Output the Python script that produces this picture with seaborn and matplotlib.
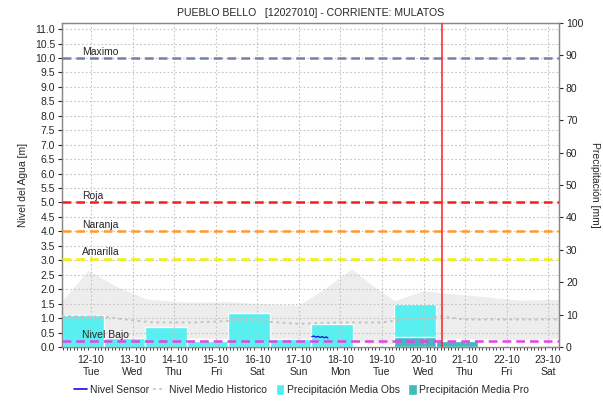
import numpy as np
import pandas as pd
import matplotlib
matplotlib.use("Agg")
import matplotlib.pyplot as plt
import seaborn as sns
from matplotlib.patches import Patch, Rectangle
from matplotlib.lines import Line2D
from matplotlib.legend_handler import HandlerPatch
from matplotlib.ticker import MultipleLocator, FormatStrFormatter

# ── datos ───────────────────────────────────────────────────────
day_labels = ["12-10\nTue", "13-10\nWed", "14-10\nThu", "15-10\nFri", "16-10\nSat", "17-10\nSun",
              "18-10\nMon", "19-10\nTue", "20-10\nWed", "21-10\nThu", "22-10\nFri", "23-10\nSat"]

# precipitación observada (mm), barras diarias que empiezan a las 07:00 del día anterior
obs_start = [-0.7, 0.3, 1.3, 2.3, 3.3, 4.3, 5.3, 6.3, 7.3]
obs_mm = [9.8, 2.9, 6.2, 2.0, 10.5, 2.5, 7.0, 0.4, 13.3]
# precipitación pronosticada (mm)
pro_start = [7.3, 8.3, 9.3]
pro_mm = [3.2, 1.9, 0.4]

# banda histórica (min-max) y nivel medio histórico [m]
band_x = [-0.7, -0.07, 0.6, 1.35, 2.3, 3.3, 4.0, 5.0, 5.6, 6.27, 6.8, 7.3, 8.0, 8.6, 9.4, 10.3, 11.26]
band_hi = [1.6, 2.65, 2.1, 1.65, 1.55, 1.57, 1.5, 1.45, 2.0, 2.7, 2.1, 1.6, 1.95, 1.85, 1.75, 1.62, 1.65]
band_lo = [0.4, 0.35, 0.2, 0.3, 0.32, 0.3, 0.3, 0.25, 0.2, 0.2, 0.12, 0.1, 0.15, 0.3, 0.28, 0.25, 0.3]
hist_x = [-0.7, 0.3, 1.0, 1.5, 2.5, 3.3, 4.0, 5.0, 6.0, 7.0, 7.5, 8.0, 8.4, 9.0, 10.0, 11.26]
hist_m = [1.07, 1.05, 0.92, 0.85, 0.85, 0.9, 0.9, 0.8, 0.85, 0.85, 0.95, 1.0, 1.07, 0.95, 0.95, 0.95]

# nivel sensor [m]
sensor_x = [5.31, 5.36, 5.41, 5.46, 5.51, 5.56, 5.61, 5.66, 5.70]
sensor_m = [0.36, 0.38, 0.34, 0.37, 0.33, 0.36, 0.32, 0.35, 0.31]

# umbrales
umbral_nombre = ["Maximo", "Roja", "Naranja", "Amarilla", "Nivel Bajo"]
umbral_valor = [10.0, 5.0, 4.0, 3.05, 0.2]
umbral_color = ["#7282aa", "#ff1a1a", "#ff9a2e", "#f2f200", "#e444e4"]

ahora = 8.44

C_OBS, C_PRO = "#4af0f0", "#3cbcbc"

# ── figura ─────────────────────────────────────────────────────
sns.set_style("white")
plt.rcParams["font.family"] = ["Liberation Sans", "DejaVu Sans"]
FS = 7.5

fig = plt.figure(figsize=(6.03, 4.03), dpi=100)
ax = fig.add_axes([62 / 603, 56 / 403, 497 / 603, 324 / 403])
ax2 = ax.twinx()
ax.set_zorder(ax2.get_zorder() + 1)
ax.patch.set_visible(False)

xmin, xmax = -0.7, 11.26

# banda histórica y barras de precipitación (eje derecho)
ax2.fill_between(band_x, band_lo, band_hi, color="#ededed", zorder=2, lw=0,
                 transform=ax.transData)
ax2.bar(obs_start, obs_mm, width=1.0, align="edge", color=C_OBS, alpha=0.92, zorder=3)
ax2.bar(pro_start, pro_mm, width=1.0, align="edge", color=C_PRO, zorder=4)
ax2.set_ylim(0, 100)
ax2.yaxis.set_major_locator(MultipleLocator(10))
ax2.set_ylabel("Precipitación [mm]", rotation=270, labelpad=12, fontsize=FS)
ax2.tick_params(axis="y", labelsize=FS, length=3, width=0.8, pad=2, direction="out", right=True)

# líneas de nivel
df_hist = pd.DataFrame({"x": hist_x, "y": hist_m})
sns.lineplot(data=df_hist, x="x", y="y", ax=ax, color="#c0c0c0", lw=1.3,
             linestyle=(0, (1.5, 2)), zorder=5)
df_sens = pd.DataFrame({"x": sensor_x, "y": sensor_m})
sns.lineplot(data=df_sens, x="x", y="y", ax=ax, color="#1010dd", lw=0.9, zorder=6)

for nombre, v, c in zip(umbral_nombre, umbral_valor, umbral_color):
    ax.axhline(v, color=c, lw=1.8, ls=(0, (3.5, 2)), zorder=6)
    ax.text(-0.22, v + 0.05, nombre, fontsize=FS, va="bottom", ha="left", zorder=7)

ax.axvline(ahora, color="#ff2020", lw=1.1, zorder=8)

ax.set_xlim(xmin, xmax)
ax.set_ylim(0, 11.21)
ax.yaxis.set_major_locator(MultipleLocator(0.5))
ax.yaxis.set_major_formatter(FormatStrFormatter("%.1f"))
ax.set_xticks(range(len(day_labels)))
ax.set_xticklabels(day_labels, fontsize=FS, linespacing=1.25)
ax.xaxis.set_minor_locator(MultipleLocator(1 / 12))
ax.tick_params(axis="x", which="major", length=0, pad=6)
ax.tick_params(axis="x", which="minor", length=2, width=0.6, bottom=True)
ax.tick_params(axis="y", labelsize=FS, length=3, width=0.8, pad=2, left=True)
ax.set_ylabel("Nivel del Agua [m]", fontsize=FS, labelpad=5)
ax.set_xlabel("")
ax.grid(True, which="major", color="#c4c4c4", ls=(0, (1.5, 2)), lw=0.8)
ax2.grid(False)

for a in (ax, ax2):
    for s in a.spines.values():
        s.set_color("#888888")
        s.set_linewidth(0.9)

ax.set_title("PUEBLO BELLO   [12027010] - CORRIENTE: MULATOS", fontsize=7.6, pad=5)


# leyenda: cuadritos angostos para la precipitación
def narrow_patch(legend, orig_handle, xdescent, ydescent, width, height, fontsize):
    return Rectangle((width - 6 - xdescent, -ydescent - 1), 6, height + 2)


handles = [
    Line2D([0], [0], color="#1010dd", lw=1.2),
    Line2D([0], [0], color="#c8c8c8", lw=1.3, ls=(0, (1.5, 2))),
    Patch(facecolor=C_OBS),
    Patch(facecolor=C_PRO),
]
labels = ["Nivel Sensor", "Nivel Medio Historico", "Precipitación Media Obs", "Precipitación Media Pro"]
fig.legend(handles, labels, loc="center", bbox_to_anchor=(0.5, 0.032), ncol=4, frameon=False,
           fontsize=FS, handlelength=1.3, handletextpad=0.25, columnspacing=0.35,
           handleheight=0.9,
           handler_map={Patch: HandlerPatch(patch_func=narrow_patch)})

fig.savefig("out.png", dpi=100)
